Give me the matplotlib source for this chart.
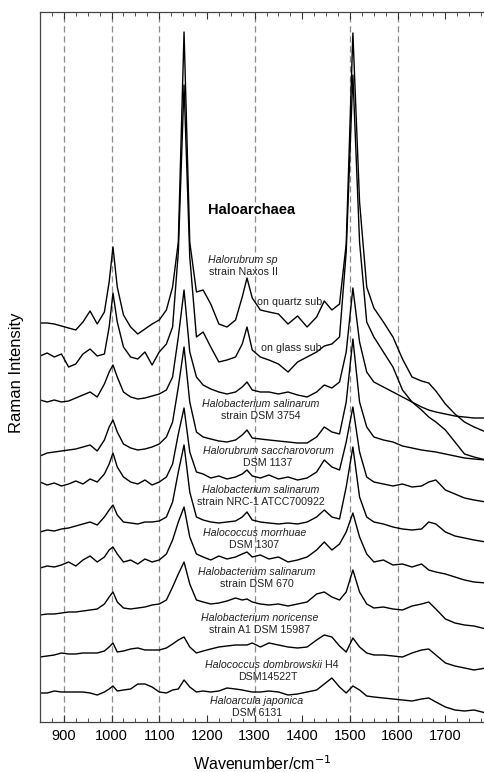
import matplotlib
matplotlib.use("Agg")
import matplotlib.pyplot as plt
from matplotlib.ticker import MultipleLocator

plt.rcParams['font.family'] = ['Liberation Sans', 'DejaVu Sans']

# wavenumber grid (cm-1) shared by all spectra
wavenumber = [850, 865, 880, 895, 910, 925, 940, 955, 970, 985,
              995, 1003, 1012, 1025, 1040, 1055, 1070, 1085, 1100, 1115,
              1128, 1140, 1152, 1164, 1178, 1192, 1208, 1225, 1242, 1260,
              1274, 1284, 1295, 1312, 1330, 1350, 1370, 1390, 1410, 1430,
              1446, 1462, 1478, 1492, 1506, 1520, 1535, 1550, 1570, 1590,
              1610, 1630, 1650, 1665, 1680, 1700, 1720, 1740, 1760, 1785]

# stacked Raman intensities (arbitrary units, already offset)
naxos_quartz = [399, 399, 398, 396, 394, 392, 400, 411, 398, 410,
                440, 475, 435, 407, 395, 388, 393, 398, 402, 412,
                435, 480, 690, 480, 430, 432, 418, 398, 395, 402,
                425, 444, 424, 412, 410, 408, 398, 406, 395, 405,
                421, 412, 418, 478, 689, 520, 435, 414, 400, 385,
                363, 345, 341, 339, 331, 318, 308, 300, 295, 290]
naxos_glass = [366, 369, 365, 368, 355, 358, 368, 373, 366, 368,
               395, 429, 400, 375, 365, 363, 370, 357, 370, 378,
               395, 470, 637, 465, 385, 390, 375, 360, 362, 365,
               378, 395, 372, 365, 362, 358, 350, 360, 365, 370,
               376, 378, 385, 470, 647, 480, 400, 385, 370, 355,
               332, 320, 312, 305, 300, 292, 280, 268, 265, 262]
dsm3754 = [322, 320, 322, 320, 321, 324, 327, 330, 325, 338,
           350, 357, 345, 330, 325, 323, 324, 326, 328, 332,
           345, 385, 432, 370, 345, 337, 333, 330, 328, 330,
           335, 340, 332, 330, 330, 328, 330, 327, 325, 330,
           337, 334, 340, 370, 434, 380, 350, 340, 335, 330,
           325, 320, 315, 312, 310, 308, 306, 305, 304, 304]
dsm1137 = [266, 269, 270, 271, 272, 273, 275, 277, 271, 282,
           295, 302, 290, 278, 274, 272, 273, 275, 278, 285,
           300, 335, 375, 320, 290, 285, 283, 281, 280, 282,
           287, 292, 284, 283, 282, 281, 280, 279, 279, 285,
           295, 290, 288, 320, 383, 320, 295, 285, 282, 280,
           276, 274, 272, 271, 270, 268, 266, 264, 263, 262]
nrc1 = [240, 237, 239, 236, 238, 241, 238, 243, 240, 248,
        258, 269, 255, 245, 240, 238, 242, 237, 240, 245,
        258, 288, 314, 270, 250, 248, 244, 246, 243, 245,
        248, 252, 246, 244, 247, 243, 245, 242, 244, 250,
        262, 255, 252, 280, 315, 270, 245, 240, 238, 236,
        238, 235, 236, 240, 242, 232, 228, 224, 222, 220]
dsm1307 = [190, 192, 191, 193, 194, 196, 198, 200, 197, 205,
           212, 217, 207, 200, 199, 198, 200, 200, 201, 205,
           220, 250, 277, 230, 205, 202, 200, 199, 200, 201,
           205, 210, 202, 200, 199, 198, 199, 198, 200, 205,
           212, 205, 203, 235, 275, 225, 205, 200, 198, 195,
           193, 192, 193, 200, 198, 190, 186, 184, 182, 180]
dsm670 = [154, 156, 155, 157, 160, 156, 162, 166, 160, 165,
          172, 175, 168, 160, 162, 158, 163, 160, 162, 168,
          182, 200, 215, 185, 168, 165, 162, 166, 163, 165,
          168, 170, 165, 167, 163, 165, 160, 162, 165, 172,
          180, 172, 178, 190, 209, 185, 168, 160, 162, 157,
          158, 155, 158, 152, 150, 148, 145, 142, 140, 139]
noricense = [107, 108, 108, 109, 110, 110, 111, 112, 113, 118,
             125, 130, 120, 114, 113, 114, 115, 117, 118, 122,
             135, 148, 160, 138, 122, 120, 118, 119, 121, 124,
             122, 123, 120, 118, 117, 118, 116, 118, 120, 128,
             130, 125, 122, 130, 152, 130, 118, 114, 115, 113,
             112, 116, 118, 120, 113, 103, 99, 97, 96, 93]
dombrowskii = [65, 66, 67, 69, 68, 68, 69, 69, 69, 71,
               75, 79, 70, 71, 73, 74, 72, 72, 72, 74,
               78, 82, 85, 75, 69, 71, 73, 75, 76, 77,
               77, 77, 79, 75, 79, 77, 75, 74, 75, 82,
               87, 85, 76, 70, 84, 75, 69, 67, 67, 66,
               65, 69, 72, 73, 67, 59, 56, 54, 52, 54]
japonica = [29, 29, 31, 30, 30, 30, 30, 29, 27, 30,
            33, 36, 31, 32, 33, 38, 38, 35, 30, 29,
            32, 33, 42, 35, 30, 31, 30, 31, 34, 33,
            32, 31, 30, 30, 31, 30, 27, 28, 30, 32,
            38, 44, 35, 29, 36, 32, 26, 25, 24, 23,
            22, 21, 23, 24, 20, 15, 12, 11, 12, 9]

spectra = [naxos_quartz, naxos_glass, dsm3754, dsm1137, nrc1,
           dsm1307, dsm670, noricense, dombrowskii, japonica]

guide_lines = [900, 1000, 1100, 1300, 1500, 1600]

# (x, y, italic line, plain line)
labels = [
    (1276, 462, "Halorubrum sp", "strain Naxos II"),
    (1313, 318, "Halobacterium salinarum", "strain DSM 3754"),
    (1328, 271, "Halorubrum saccharovorum", "DSM 1137"),
    (1313, 232, "Halobacterium salinarum", "strain NRC-1 ATCC700922"),
    (1299, 189, "Halococcus morrhuae", "DSM 1307"),
    (1305, 150, "Halobacterium salinarum", "strain DSM 670"),
    (1311, 104, "Halobacterium noricense", "strain A1 DSM 15987"),
    (1305, 21, "Haloarcula japonica", "DSM 6131"),
]

fig = plt.figure(figsize=(4.85, 7.72), dpi=100)
ax = fig.add_axes([40 / 485, 50 / 772, 445 / 485, 710 / 772])

for x in guide_lines:
    ax.axvline(x, color='#8a8a8a', lw=0.9, ls=(0, (5, 3)), zorder=0)

for s in spectra:
    ax.plot(wavenumber, s, color='black', lw=1.0)

ax.set_xlim(850, 1783)
ax.set_ylim(0, 710)
ax.set_yticks([])
ax.xaxis.set_major_locator(MultipleLocator(100))
ax.xaxis.set_minor_locator(MultipleLocator(25))
ax.tick_params(axis='x', which='both', direction='in', top=True,
               labelsize=10.5, pad=5, color='#333333')
ax.tick_params(axis='x', which='major', length=5)
ax.tick_params(axis='x', which='minor', length=3)
for sp in ax.spines.values():
    sp.set_color('#444444')
    sp.set_linewidth(0.9)

ax.set_xlabel("Wavenumber/cm$^{-1}$", fontsize=11.5, labelpad=8)
fig.text(17 / 485, 1 - 373 / 772, "Raman Intensity", rotation=90,
         ha='center', va='center', fontsize=12)

ax.text(1294, 512, "Haloarchaea", fontsize=10.5, fontweight='bold',
        ha='center', va='center')

fs = 7.7
for x, y, it, plain in labels:
    ax.text(x, y, it, style='italic', fontsize=fs, ha='center', va='center', color='#222222')
    ax.text(x, y - 12, plain, fontsize=fs, ha='center', va='center', color='#222222')

ax.text(1374, 420, "on quartz sub", fontsize=fs, ha='center', va='center', color='#222222')
ax.text(1376, 374, "on glass sub", fontsize=fs, ha='center', va='center', color='#222222')

# dombrowskii label: italic species name followed by plain strain code
t1 = ax.text(1318, 57, "Halococcus dombrowskii", style='italic', fontsize=fs,
             ha='center', va='center', color='#222222')
ax.annotate(" H4", xy=(1, 0.5), xycoords=t1, ha='left', va='center',
            fontsize=fs, color='#222222')
ax.text(1328, 45, "DSM14522T", fontsize=fs, ha='center', va='center', color='#222222')

fig.savefig('out.png', dpi=100)
